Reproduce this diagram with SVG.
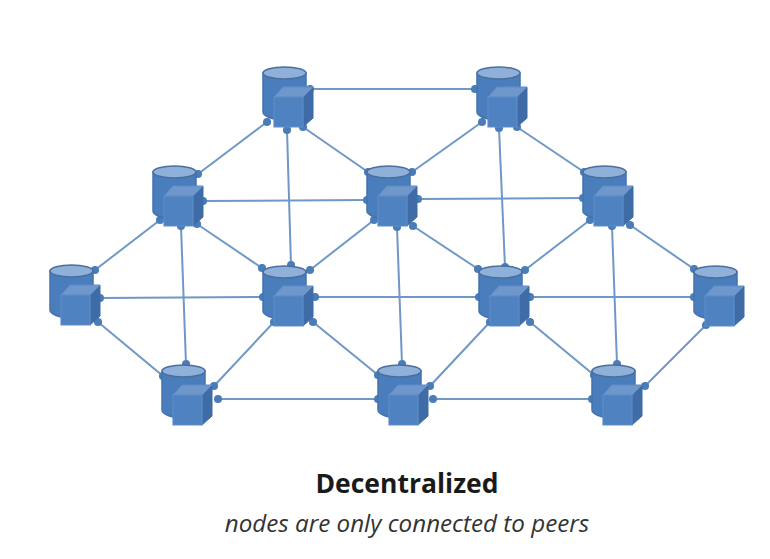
<svg xmlns="http://www.w3.org/2000/svg" width="770" height="559" viewBox="0 0 770 559">
<style>
.c{fill:none;stroke:#6f98c6;stroke-width:2;marker-start:url(#d);marker-end:url(#d)}
.b{fill:#4a7dbb;stroke:#4373ae;stroke-width:1.5}
.t{fill:#8fb0d8;stroke:#4a6f9f;stroke-width:1.5}
.f{fill:#4f82c0;stroke:#5f8dc6;stroke-width:1.2}
.u{fill:#6f97cc;stroke:#5f8dc6;stroke-width:1}
.s{fill:#3f6ca6;stroke:#3f6ca6;stroke-width:1}
text{text-anchor:middle;font-family:"Open Sans","Noto Sans",sans-serif}
</style>
<defs>
<marker id="d" viewBox="-5 -5 10 10" markerWidth="9" markerHeight="9" markerUnits="userSpaceOnUse" refX="0" refY="0"><circle r="4.5" fill="#4a7cb8"/></marker>
<g id="n">
<path class="b" d="M0 7V46C0 50 9 54 21 54S43 50 43 46V7Z"/>
<ellipse class="t" cx="21.500" cy="7" rx="21.500" ry="6"/>
<polygon class="s" points="40,31 50,21 50,52 40,61"/>
<polygon class="u" points="11,31 20,21 50,21 40,31"/>
<polygon class="f" points="11,31 40,31 40,61 11,61"/>
</g>
</defs>
<g id="connectors">
<line class="c" x1="310" y1="89" x2="475" y2="89"/>
<line class="c" x1="267" y1="122" x2="198" y2="174"/>
<line class="c" x1="287" y1="130" x2="291" y2="265"/>
<line class="c" x1="303" y1="127" x2="368" y2="172"/>
<line class="c" x1="482" y1="122" x2="412" y2="172"/>
<line class="c" x1="499" y1="128" x2="505" y2="267"/>
<line class="c" x1="517" y1="127" x2="584" y2="172"/>
<line class="c" x1="203" y1="201" x2="367" y2="200"/>
<line class="c" x1="418" y1="199" x2="583" y2="198"/>
<line class="c" x1="160" y1="220" x2="95" y2="270"/>
<line class="c" x1="181" y1="226" x2="186" y2="364"/>
<line class="c" x1="197" y1="224" x2="262" y2="268"/>
<line class="c" x1="374" y1="220" x2="310" y2="270"/>
<line class="c" x1="397" y1="227" x2="402" y2="364"/>
<line class="c" x1="413" y1="226" x2="478" y2="269"/>
<line class="c" x1="590" y1="220" x2="525" y2="270"/>
<line class="c" x1="612" y1="226" x2="617" y2="364"/>
<line class="c" x1="630" y1="225" x2="694" y2="269"/>
<line class="c" x1="100" y1="298" x2="263" y2="297"/>
<line class="c" x1="315" y1="297" x2="479" y2="297"/>
<line class="c" x1="530" y1="297" x2="694" y2="297"/>
<line class="c" x1="98" y1="322" x2="163" y2="376"/>
<line class="c" x1="274" y1="322" x2="214" y2="386"/>
<line class="c" x1="313" y1="322" x2="378" y2="375"/>
<line class="c" x1="490" y1="322" x2="430" y2="386"/>
<line class="c" x1="530" y1="322" x2="594" y2="375"/>
<line class="c" x1="706" y1="325" x2="645" y2="386"/>
<line class="c" x1="218" y1="399" x2="378" y2="399"/>
<line class="c" x1="433" y1="399" x2="592" y2="399"/>
</g>
<g id="n1"><use href="#n" x="263" y="66"/></g>
<g id="n2"><use href="#n" x="477" y="66"/></g>
<g id="n3"><use href="#n" x="153" y="165"/></g>
<g id="n4"><use href="#n" x="367" y="165"/></g>
<g id="n5"><use href="#n" x="583" y="165"/></g>
<g id="n6"><use href="#n" x="50" y="264"/></g>
<g id="n7"><use href="#n" x="263" y="265"/></g>
<g id="n8"><use href="#n" x="479" y="265"/></g>
<g id="n9"><use href="#n" x="694" y="265"/></g>
<g id="n10"><use href="#n" x="162" y="364"/></g>
<g id="n11"><use href="#n" x="378" y="364"/></g>
<g id="n12"><use href="#n" x="592" y="364"/></g>
<text x="407" y="493" font-size="26.500" font-weight="700" fill="#1a1a1a">Decentralized</text>
<text x="407" y="532" font-size="24.200" font-style="italic" fill="#333">nodes are only connected to peers</text>
</svg>
